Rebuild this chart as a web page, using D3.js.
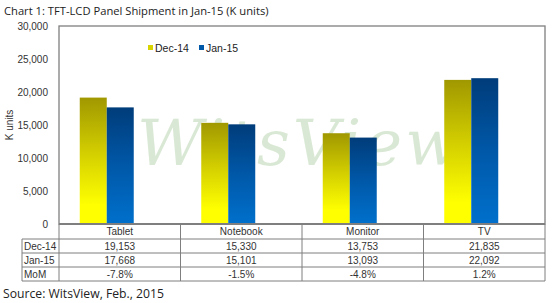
<!DOCTYPE html>
<html><head><meta charset="utf-8">
<script src="https://cdn.jsdelivr.net/npm/d3@7"></script>
<style>body{margin:0;background:#fff}svg{display:block}</style>
</head><body>
<svg id="c" width="552" height="303"></svg>
<script>
const categories = ["Tablet","Notebook","Monitor","TV"];
const seriesNames = ["Dec-14","Jan-15"];
const dec14 = [19153,15330,13753,21835];
const jan15 = [17668,15101,13093,22092];
const mom = ["-7.8%","-1.5%","-4.8%","1.2%"];
const yTicks = [0,5000,10000,15000,20000,25000,30000];

const svg = d3.select("#c");
const L = 59, R = 545, T = 26, B = 224;
const y = d3.scaleLinear().domain([0,30000]).range([B,T]);
const xCol = d3.scaleBand().domain(categories).range([L,R]);
const xBar = d3.scaleBand().domain(categories).range([L-13,R-13]).paddingInner(0.5556).paddingOuter(0.2778);
const xSub = d3.scaleBand().domain(seriesNames).range([0,xBar.bandwidth()]);

const defs = svg.append("defs");
const gy = defs.append("linearGradient").attr("id","gy").attr("x1",0).attr("y1",0).attr("x2",0).attr("y2",1);
gy.append("stop").attr("offset","0%").attr("stop-color","#a09800");
gy.append("stop").attr("offset","45%").attr("stop-color","#d4d000");
gy.append("stop").attr("offset","85%").attr("stop-color","#ffff00");
gy.append("stop").attr("offset","100%").attr("stop-color","#ffff00");
const gb = defs.append("linearGradient").attr("id","gb").attr("x1",0).attr("y1",0).attr("x2",0).attr("y2",1);
gb.append("stop").attr("offset","0%").attr("stop-color","#003c7a");
gb.append("stop").attr("offset","50%").attr("stop-color","#0058a8");
gb.append("stop").attr("offset","100%").attr("stop-color","#0070cc");
const fills = {"Dec-14":"url(#gy)","Jan-15":"url(#gb)"};
const legendFill = {"Dec-14":"#d8d400","Jan-15":"#0058a8"};

// title
svg.append("text").attr("x",4).attr("y",15).attr("font-family","Open Sans, sans-serif").attr("font-size",11.2).attr("fill","#222")
  .text("Chart 1: TFT-LCD Panel Shipment in Jan-15 (K units)");

// watermark
svg.append("text").attr("x",300).attr("y",165).attr("text-anchor","middle")
  .attr("font-family","DejaVu Serif, serif").attr("font-style","italic").attr("font-size",64)
  .attr("fill","#b9d6b0").attr("fill-opacity",0.55).attr("letter-spacing",3).text("WitsView");

// bars
const data = categories.map((c,i)=>({c, vals:[{s:"Dec-14",v:dec14[i]},{s:"Jan-15",v:jan15[i]}]}));
const g = svg.append("g").selectAll("g").data(data).join("g").attr("transform",d=>`translate(${xBar(d.c)},0)`);
g.selectAll("rect").data(d=>d.vals).join("rect")
  .attr("x",d=>xSub(d.s)).attr("width",xSub.bandwidth())
  .attr("y",d=>y(d.v)).attr("height",d=>y(0)-y(d.v))
  .attr("fill",d=>fills[d.s]);

// frame
svg.append("rect").attr("x",L).attr("y",T).attr("width",R-L).attr("height",B-T).attr("fill","none").attr("stroke","#7f7f7f").attr("stroke-width",1.3);

// y axis labels
svg.append("g").selectAll("text").data(yTicks).join("text")
  .attr("x",48).attr("y",d=>y(d)+3.5).attr("text-anchor","end")
  .attr("font-family","Liberation Sans, Arial, sans-serif").attr("font-size",10).attr("fill","#333")
  .text(d=>d3.format(",")(d));
svg.append("text").attr("transform","translate(13,125) rotate(-90)").attr("text-anchor","middle")
  .attr("font-family","Liberation Sans, Arial, sans-serif").attr("font-size",10).attr("fill","#333").text("K units");

// legend
const lg = svg.append("g").selectAll("g").data(seriesNames).join("g")
  .attr("transform",(d,i)=>`translate(${148+i*51},48)`);
lg.append("rect").attr("x",0).attr("y",-3).attr("width",5).attr("height",5).attr("fill",d=>legendFill[d]);
lg.append("text").attr("x",7).attr("y",3.5).attr("font-family","Liberation Sans, Arial, sans-serif").attr("font-size",10.5).attr("fill","#222").text(d=>d);

// table
const rowY = [224,239,253,267,281];
const tg = svg.append("g").attr("stroke","#7f7f7f").attr("stroke-width",1);
tg.selectAll("line.h").data(rowY.slice(1)).join("line").attr("class","h")
  .attr("x1",22).attr("x2",R).attr("y1",d=>d).attr("y2",d=>d);
const vx = [L].concat(categories.map(c=>xCol(c)+xCol.bandwidth()));
tg.selectAll("line.v").data(vx).join("line").attr("class","v")
  .attr("x1",d=>d).attr("x2",d=>d).attr("y1",B).attr("y2",281);
tg.append("line").attr("x1",22).attr("x2",22).attr("y1",239).attr("y2",281);
svg.append("line").attr("x1",L).attr("x2",R).attr("y1",B).attr("y2",B).attr("stroke","#7f7f7f").attr("stroke-width",1.8);

const tf = "Liberation Sans, Arial, sans-serif";
svg.append("g").selectAll("text").data(categories).join("text")
  .attr("x",d=>xCol(d)+xCol.bandwidth()/2).attr("y",235).attr("text-anchor","middle")
  .attr("font-family",tf).attr("font-size",10).attr("fill","#333").text(d=>d);
const rows = [{label:"Dec-14",vals:dec14.map(d3.format(","))},{label:"Jan-15",vals:jan15.map(d3.format(","))},{label:"MoM",vals:mom}];
rows.forEach((r,ri)=>{
  const yy = rowY[ri+1]+11;
  svg.append("text").attr("x",24).attr("y",yy).attr("font-family",tf).attr("font-size",10).attr("fill","#333").text(r.label);
  svg.append("g").selectAll("text").data(r.vals).join("text")
    .attr("x",(d,i)=>xCol(categories[i])+xCol.bandwidth()/2).attr("y",yy).attr("text-anchor","middle")
    .attr("font-family",tf).attr("font-size",10).attr("fill","#333").text(d=>d);
});

// source
svg.append("text").attr("x",3).attr("y",298).attr("font-family","Open Sans, sans-serif").attr("font-size",12.2).attr("fill","#222")
  .text("Source: WitsView, Feb., 2015");
</script>
</body></html>
